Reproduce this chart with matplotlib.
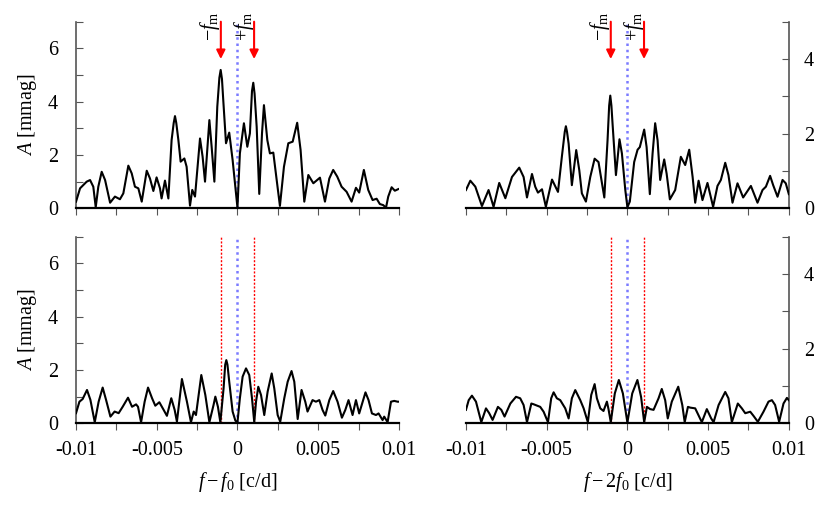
import numpy as np
import matplotlib
matplotlib.use('Agg')
import matplotlib.pyplot as plt
from matplotlib.ticker import MultipleLocator, FixedLocator
import matplotlib.transforms as mtransforms

plt.rcParams['font.family'] = ['Liberation Serif', 'DejaVu Serif']
plt.rcParams['mathtext.fontset'] = 'custom'
plt.rcParams['mathtext.rm'] = 'Liberation Serif'
plt.rcParams['mathtext.it'] = 'Liberation Serif:italic'

FS = 14.5

# modulation frequency (c/d)
f_m = 0.00103

# frequencies in units of 1e-3 c/d, amplitudes in mmag
# top left: f - f0, data
tl_f = [-10.0, -9.75, -9.34, -9.13, -8.93, -8.78, -8.62, -8.41, -8.20, -7.89, -7.59, -7.28,
        -7.07, -6.76, -6.55, -6.35, -6.14, -5.93, -5.62, -5.42, -5.21, -5.01, -4.80, -4.70,
        -4.49, -4.28, -4.08, -3.95, -3.87, -3.79, -3.66, -3.52, -3.29, -3.15, -2.94, -2.80,
        -2.63, -2.32, -2.16, -2.01, -1.74, -1.60, -1.43, -1.25, -1.12, -1.04, -0.96, -0.88,
        -0.71, -0.51, -0.30, 0.0, 0.15, 0.40, 0.61, 0.77, 0.90, 0.98, 1.06, 1.19, 1.35, 1.52,
        1.64, 1.85, 2.01, 2.22, 2.43, 2.63, 2.88, 3.15, 3.42, 3.70, 3.91, 4.14, 4.39, 4.70,
        5.11, 5.42, 5.69, 5.93, 6.18, 6.45, 6.76, 7.07, 7.34, 7.54, 7.83, 8.10, 8.37, 8.62,
        8.82, 9.03, 9.20, 9.34, 9.55, 9.75, 9.96]
tl_a = [0.25, 0.75, 1.0, 1.06, 0.81, 0.04, 0.81, 1.37, 1.06, 0.21, 0.44, 0.34,
        0.56, 1.6, 1.31, 0.81, 0.75, 0.25, 1.41, 1.12, 0.65, 1.16, 0.75, 0.37,
        1.04, 0.37, 2.56, 3.2, 3.46, 3.2, 2.56, 1.75, 1.87, 1.56, 0.1, 0.69,
        0.44, 2.62, 1.94, 1.0, 3.31, 2.31, 1.0, 3.81, 4.9, 5.19, 4.85, 4.06,
        2.44, 2.84, 1.81, 0.02, 2.06, 3.19, 2.31, 2.81, 4.4, 4.71, 4.3, 3.06, 0.54, 2.81,
        3.87, 2.56, 2.06, 2.09, 1.06, 0.09, 1.56, 2.44, 2.5, 3.21, 2.19, 0.25, 1.25, 0.94,
        1.15, 0.25, 1.12, 1.44, 1.19, 0.81, 0.62, 0.25, 0.77, 0.59, 1.44, 0.69, 0.31, 0.36,
        0.16, 0.12, 0.02, 0.44, 0.79, 0.66, 0.72]

# top right: f - 2f0, data
tr_f = [-10.0, -9.73, -9.42, -9.01, -8.60, -8.29, -7.94, -7.56, -7.15, -6.70, -6.43, -6.22,
        -5.91, -5.71, -5.54, -5.29, -5.05, -4.67, -4.30, -4.06, -3.88, -3.81, -3.74, -3.64,
        -3.44, -3.17, -2.98, -2.82, -2.57, -2.30, -2.03, -1.79, -1.43, -1.23, -1.13, -1.06,
        -0.99, -0.92, -0.71, -0.49, -0.34, -0.13, 0.0, 0.15, 0.42, 0.63, 0.77, 1.04, 1.19,
        1.39, 1.56, 1.72, 1.87, 2.03, 2.28, 2.43, 2.63, 2.96, 3.31, 3.58, 3.83, 4.04, 4.20,
        4.41, 4.65, 4.96, 5.31, 5.58, 5.79, 6.06, 6.26, 6.51, 6.82, 7.17, 7.65, 8.06, 8.37,
        8.58, 8.84, 9.03, 9.30, 9.61, 9.81, 10.0]
tr_a = [0.49, 0.74, 0.58, 0.06, 0.49, 0.04, 0.68, 0.27, 0.84, 1.09, 0.84, 0.29,
        0.92, 0.58, 0.42, 0.51, 0.04, 0.77, 0.44, 1.38, 2.05, 2.2, 2.05, 1.73,
        0.62, 1.56, 1.02, 0.4, 0.18, 0.84, 1.33, 1.24, 0.29, 1.82, 2.75, 3.02,
        2.75, 2.27, 0.89, 1.85, 1.47, 0.49, 0.03, 0.18, 1.24, 1.57, 1.64, 2.11, 1.64,
        0.38, 1.47, 2.28, 1.82, 0.76, 1.31, 0.93, 0.24, 0.49, 1.38, 1.16, 1.57, 0.84, 0.15,
        0.74, 0.22, 0.68, 0.04, 0.6, 0.76, 1.22, 0.89, 0.15, 0.67, 0.29, 0.6, 0.15, 0.49,
        0.58, 0.87, 0.62, 0.31, 0.76, 0.67, 0.38]

# bottom left: f - f0, prewhitened residuals
bl_f = [-10.0, -9.79, -9.59, -9.32, -9.11, -8.84, -8.60, -8.35, -8.14, -7.87, -7.61, -7.36,
        -7.11, -6.78, -6.53, -6.28, -6.16, -5.97, -5.75, -5.54, -5.29, -5.09, -4.84, -4.57,
        -4.37, -4.10, -3.89, -3.75, -3.44, -3.13, -2.88, -2.71, -2.57, -2.24, -1.99, -1.74,
        -1.48, -1.37, -1.21, -1.06, -0.86, -0.76, -0.69, -0.62, -0.51, -0.30, -0.13, 0.0,
        0.15, 0.32, 0.53, 0.73, 0.90, 1.04, 1.15, 1.29, 1.46, 1.66, 1.87, 2.12, 2.28, 2.49,
        2.65, 2.90, 3.11, 3.35, 3.52, 3.73, 3.97, 4.20, 4.34, 4.65, 4.86, 5.07, 5.27, 5.44,
        5.69, 5.93, 6.20, 6.47, 6.68, 6.88, 7.13, 7.34, 7.54, 7.93, 8.12, 8.33, 8.58, 8.74,
        8.99, 9.09, 9.30, 9.51, 9.71, 9.92, 10.0]
bl_a = [0.38, 0.81, 0.91, 1.25, 0.88, 0.04, 0.81, 1.34, 0.88, 0.25, 0.44, 0.38,
        0.62, 0.96, 0.62, 0.71, 0.62, 0.04, 0.81, 1.34, 0.94, 0.66, 0.79, 0.5,
        0.28, 0.94, 0.5, 0.06, 1.66, 0.81, 0.04, 0.44, 0.31, 1.81, 1.06, 0.04,
        0.69, 1.0, 0.62, 0.04, 1.31, 2.2, 2.37, 2.2, 1.56, 0.44, 0.1, 0.03,
        0.94, 1.75, 2.06, 1.81, 0.94, 0.04, 0.81, 1.37, 1.06, 0.31, 1.19, 1.87, 1.31, 0.31,
        0.06, 0.94, 1.56, 1.96, 1.56, 0.16, 1.25, 0.81, 0.44, 0.87, 0.81, 0.87, 0.5, 0.29,
        0.87, 1.21, 0.81, 0.21, 0.5, 0.87, 0.31, 0.87, 0.37, 1.16, 0.87, 0.37, 0.31, 0.37,
        0.12, 0.25, 0.04, 0.81, 0.84, 0.81, 0.81]

# bottom right: f - 2f0, prewhitened residuals
br_f = [-10.0, -9.83, -9.63, -9.38, -9.05, -8.76, -8.56, -8.35, -8.02, -7.81, -7.61, -7.25,
        -6.90, -6.64, -6.43, -6.22, -5.95, -5.81, -5.40, -5.19, -4.92, -4.72, -4.57, -4.37,
        -4.16, -3.85, -3.64, -3.44, -3.23, -2.92, -2.71, -2.45, -2.24, -2.03, -1.89, -1.68,
        -1.48, -1.27, -1.17, -1.03, -0.78, -0.53, -0.28, 0.0, 0.30, 0.62, 0.85, 1.04,
        1.21, 1.41, 1.62, 1.93, 2.13, 2.34, 2.50, 2.75, 3.15, 3.40, 3.55, 3.75, 3.89, 4.20,
        4.40, 4.61, 4.92, 5.19, 5.34, 5.65, 6.06, 6.26, 6.47, 6.84, 7.09, 7.30, 7.61, 7.81,
        8.08, 8.43, 8.74, 8.95, 9.15, 9.40, 9.67, 9.88, 10.0]
br_a = [0.36, 0.62, 0.74, 0.58, 0.03, 0.40, 0.27, 0.09, 0.44, 0.36, 0.18, 0.53,
        0.71, 0.67, 0.49, 0.03, 0.53, 0.51, 0.44, 0.31, 0.03, 0.67, 0.83, 0.67,
        0.62, 0.40, 0.13, 0.67, 0.89, 0.62, 0.40, 0.03, 0.76, 1.05, 0.67, 0.40,
        0.33, 0.58, 0.38, 0.03, 0.8, 1.16, 0.8, 0.02, 0.8, 1.16, 0.7, 0.03,
        0.44, 0.38, 0.36, 0.67, 0.92, 0.62, 0.13, 0.58, 0.98, 0.49, 0.03, 0.44, 0.42, 0.40,
        0.22, 0.03, 0.38, 0.13, 0.03, 0.49, 0.84, 0.67, 0.03, 0.53, 0.40, 0.27, 0.31, 0.20,
        0.04, 0.31, 0.58, 0.62, 0.49, 0.04, 0.53, 0.68, 0.62]

fig = plt.figure(figsize=(8.3, 5.05), dpi=100)
W, H = 0.389, 0.3695
ax_tl = fig.add_axes([0.0916, 0.5875, W, H])
ax_tr = fig.add_axes([0.5614, 0.5875, W, H])
ax_bl = fig.add_axes([0.0916, 0.1618, W, H])
ax_br = fig.add_axes([0.5614, 0.1618, W, H])

panels = [(ax_tl, tl_f, tl_a, 7, 'left', True),
          (ax_tr, tr_f, tr_a, 5, 'right', True),
          (ax_bl, bl_f, bl_a, 7, 'left', False),
          (ax_br, br_f, br_a, 5, 'right', False)]

for ax, f, a, ytop, side, top in panels:
    ax.plot(np.array(f) * 1e-3, a, color='black', lw=1.5, zorder=3,
            solid_joinstyle='round')
    ax.set_xlim(-0.01, 0.01)
    ax.set_ylim(0, ytop)
    ax.axvline(0, color='#7b7bff', ls=(0, (1, 1.5)), lw=1.8, zorder=2)
    trans = mtransforms.blended_transform_factory(ax.transData, ax.transAxes)
    if top:
        for sgn, lab in [(-1, r'$-f_{\rm m}$'), (1, r'$+f_{\rm m}$')]:
            ax.annotate('', xy=(sgn * f_m, 0.8), xytext=(sgn * f_m, 1.0),
                        xycoords=trans, textcoords=trans,
                        arrowprops=dict(arrowstyle='-|>', color='red', lw=1.5,
                                        mutation_scale=13, shrinkA=0, shrinkB=0))
            ax.text(sgn * f_m + 0.0001, 0.975, lab, transform=trans, rotation=90,
                    ha='right', va='center', fontsize=FS)
    else:
        for sgn in (-1, 1):
            ax.axvline(sgn * f_m, color='red', ls=(0, (1.5, 1.2)), lw=1.0, zorder=2)

    for s in ['top', 'left', 'right']:
        ax.spines[s].set_visible(False)
    ax.spines['bottom'].set_linewidth(1.6)
    ax.spines[side].set_visible(True)
    ax.spines[side].set_color('#555555')
    ax.spines[side].set_linewidth(1.2)

    ax.xaxis.set_major_locator(FixedLocator([-0.01, -0.005, 0, 0.005, 0.01]))
    ax.xaxis.set_minor_locator(MultipleLocator(0.0025))
    ax.tick_params(axis='x', which='both', direction='out', length=5, width=0.8,
                   color='#555555', top=False, pad=8, labelsize=FS)
    if not top:
        ax.set_xticklabels(['-0.01', '-0.005', '0', '0.005', '0.01'])
    else:
        ax.tick_params(axis='x', labelbottom=False)

    ax.yaxis.set_major_locator(MultipleLocator(2))
    ax.yaxis.set_minor_locator(MultipleLocator(1))
    if side == 'left':
        ax.tick_params(axis='y', which='both', direction='in', length=5, width=0.8,
                       color='#555555', left=True, right=False, pad=13, labelsize=FS)
        ax.set_ylabel(r'$A$ [mmag]', fontsize=FS)
        ax.yaxis.set_label_coords(-0.115, 0.5)
    else:
        ax.yaxis.tick_right()
        ax.tick_params(axis='y', which='both', direction='in', length=5, width=0.8,
                       color='#555555', left=False, right=True, pad=11, labelsize=FS)

ax_bl.set_xlabel(r'$f-f_0$ [c/d]', fontsize=FS)
ax_bl.xaxis.set_label_coords(0.5, -0.25)
ax_br.set_xlabel(r'$f-2f_0$ [c/d]', fontsize=FS)
ax_br.xaxis.set_label_coords(0.5, -0.25)

fig.savefig('out.png', dpi=100)
